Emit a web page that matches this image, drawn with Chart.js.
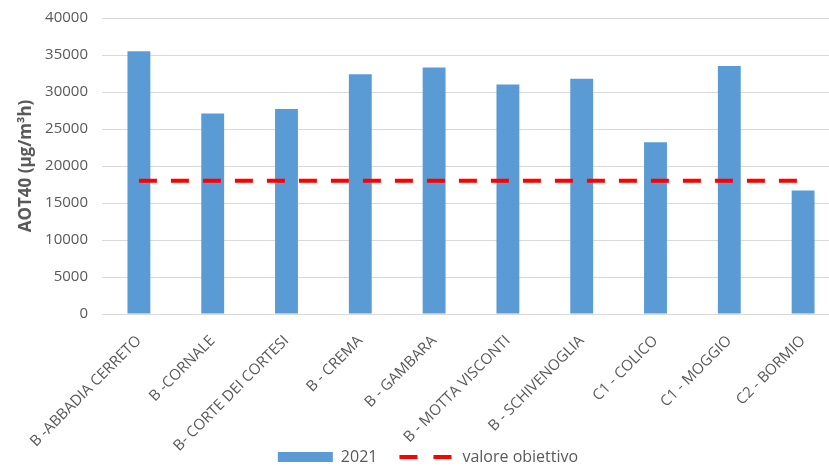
<!DOCTYPE html>
<html>
<head>
<meta charset="utf-8">
<script src="https://cdn.jsdelivr.net/npm/chart.js@4"></script>
<style>
  html, body { margin: 0; padding: 0; background: #fff; overflow: hidden; }
</style>
</head>
<body>
<canvas id="chart" width="842" height="467"></canvas>
<script>
// dati
const stations = ['B -ABBADIA CERRETO', 'B -CORNALE', 'B- CORTE DEI CORTESI', 'B - CREMA', 'B - GAMBARA',
    'B - MOTTA VISCONTI', 'B - SCHIVENOGLIA', 'C1 - COLICO', 'C1 - MOGGIO', 'C2 - BORMIO'];
const aot40_2021 = [35500, 27100, 27700, 32400, 33300, 31000, 31800, 23200, 33500, 16700];
const targetValue = [18000, 18000, 18000, 18000, 18000, 18000, 18000, 18000, 18000, 18000];
const yTicks = [0, 5000, 10000, 15000, 20000, 25000, 30000, 35000, 40000];

const grey = '#595959';
const font = "'Open Sans', sans-serif";
const legendPad = 22;

// la legenda sta sotto le etichette, come nell'originale
const legendShift = {
    id: 'legendShift',
    beforeLayout(chart) {
        const lg = chart.legend;
        if (lg && !lg._fixed) {
            const fit = lg.fit;
            lg.fit = function () { fit.call(this); this.height = 13; };
            lg._fixed = true;
        }
    },
    afterLayout(chart) {
        const lg = chart.legend;
        const dx = 428 - (lg.left + lg.right) / 2;
        lg.left += dx;
        lg.right += dx;
        lg.top = 449 - legendPad;
        lg.bottom = chart.height;
    }
};

new Chart(document.getElementById('chart').getContext('2d'), {
    type: 'bar',
    data: {
        labels: stations,
        datasets: [{
            label: '2021',
            data: aot40_2021,
            backgroundColor: '#5B9BD5',
            barPercentage: 0.31,
            categoryPercentage: 1,
            order: 2
        }, {
            type: 'line',
            label: 'valore obiettivo',
            data: targetValue,
            borderColor: '#FF0000',
            backgroundColor: '#FF0000',
            borderWidth: 4,
            borderDash: [18, 14],
            pointRadius: 0,
            fill: false,
            order: 1
        }]
    },
    options: {
        responsive: false,
        animation: false,
        devicePixelRatio: 1,
        layout: { padding: { top: 0, right: 2, left: 0, bottom: 0 } },
        scales: {
            x: {
                afterFit(scale) { scale.height = 140; },
                grid: { display: false },
                border: { color: '#D9D9D9' },
                ticks: {
                    color: grey,
                    padding: 10,
                    font: { family: font, size: 15 },
                    maxRotation: 45,
                    minRotation: 45,
                    autoSkip: false
                }
            },
            y: {
                min: 0,
                max: 40000,
                afterFit(scale) {
                    scale.width = 102;
                    scale.paddingTop = 18;
                    scale.paddingBottom = 0;
                },
                afterBuildTicks(scale) { scale.ticks = yTicks.map(v => ({ value: v })); },
                grid: { color: '#D9D9D9', drawTicks: false },
                border: { display: false },
                ticks: {
                    color: grey,
                    padding: 14,
                    font: { family: font, size: 15 },
                    callback: (v) => String(v)
                },
                title: {
                    display: true,
                    text: 'AOT40 (µg/m³h)',
                    color: grey,
                    padding: { top: 16, bottom: 0 },
                    font: { family: font, size: 17, weight: 'bold' }
                }
            }
        },
        plugins: {
            legend: {
                position: 'bottom',
                labels: {
                    color: grey,
                    font: { family: font, size: 16 },
                    usePointStyle: true,
                    pointStyleWidth: 55,
                    boxHeight: 10,
                    padding: legendPad,
                    sort: (a, b) => a.datasetIndex - b.datasetIndex,
                    generateLabels(chart) {
                        const items = Chart.defaults.plugins.legend.labels.generateLabels(chart);
                        items.forEach(it => {
                            if (it.datasetIndex === 0) {
                                it.pointStyle = 'rect';
                                it.lineWidth = 0;
                            } else {
                                it.pointStyle = 'line';
                                it.lineWidth = 4;
                                it.lineDash = [18, 16];
                                it.strokeStyle = '#FF0000';
                            }
                        });
                        return items;
                    }
                }
            },
            tooltip: { enabled: false }
        }
    },
    plugins: [legendShift]
});
</script>
</body>
</html>
